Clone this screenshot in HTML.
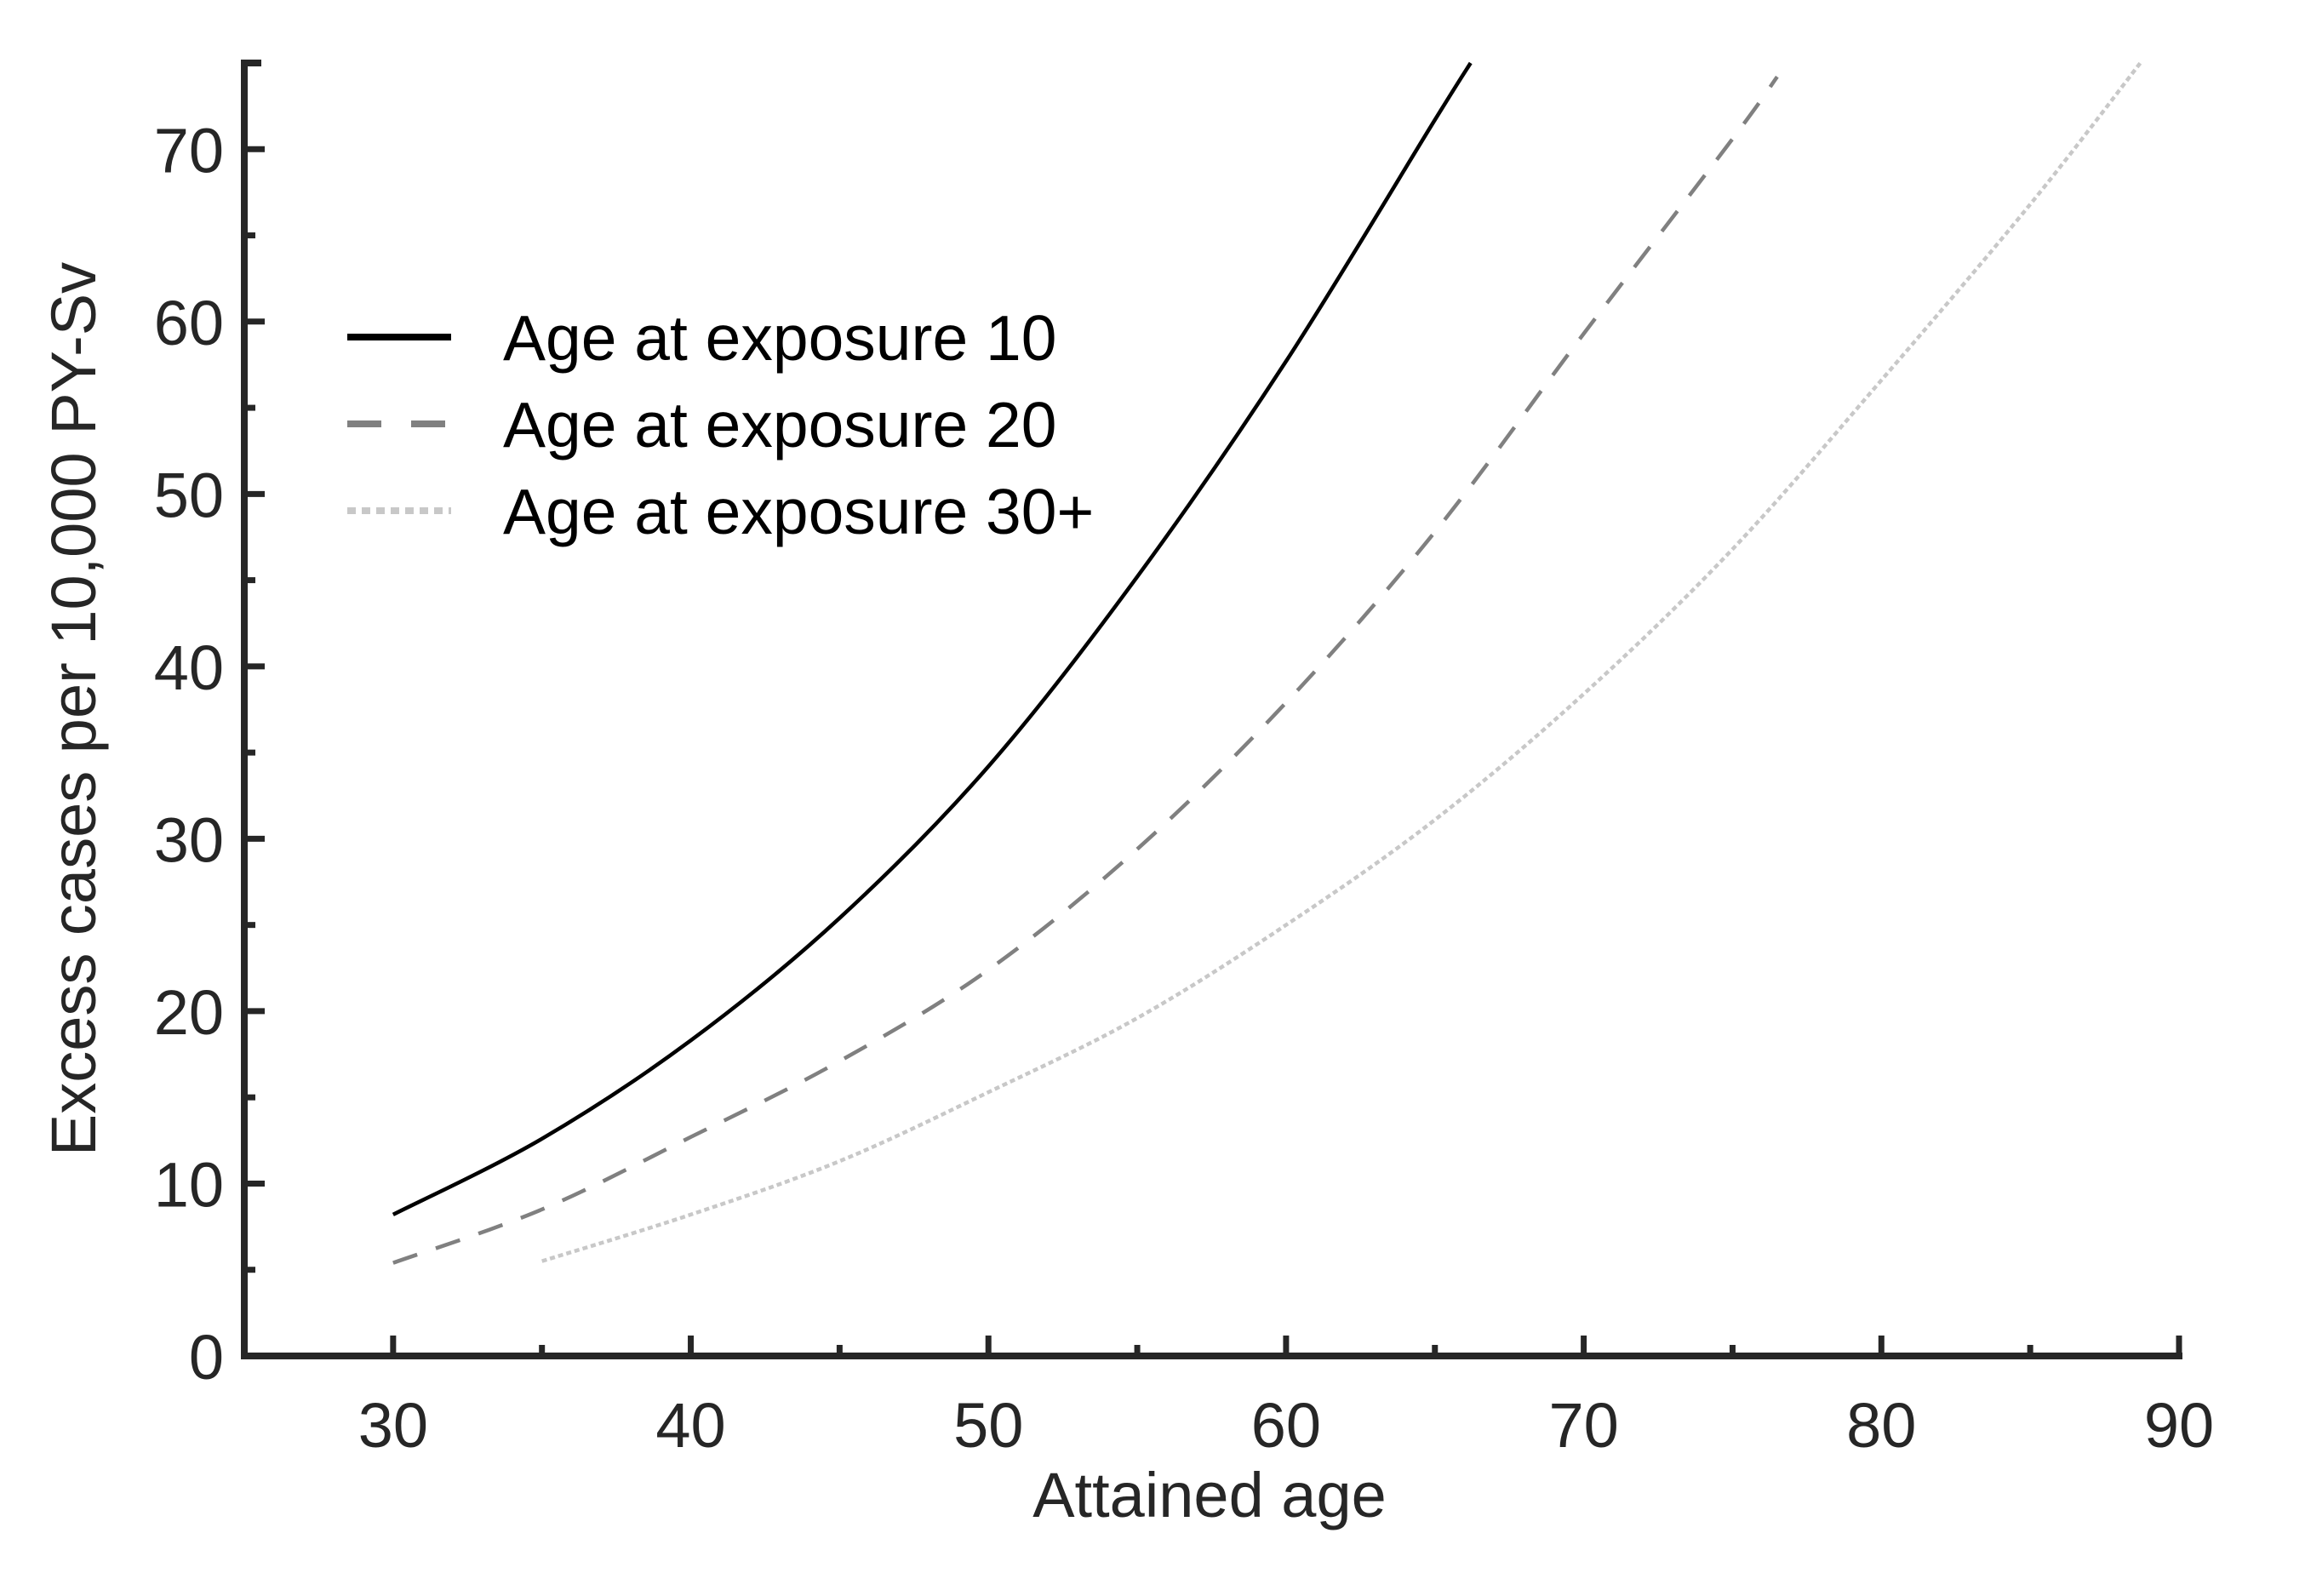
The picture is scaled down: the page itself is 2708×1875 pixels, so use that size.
<!DOCTYPE html>
<html><head><meta charset="utf-8"><style>
html,body{margin:0;padding:0;background:#fff;}
svg{display:block;font-family:"Liberation Sans",Arial,sans-serif;}
</style></head><body>
<svg id="chart" width="2708" height="1875" viewBox="0 0 2708 1875" xmlns="http://www.w3.org/2000/svg">
<g id="axes"></g>
<g id="series"></g>
<g id="legend"></g>
<text x="1421" y="1782" font-size="74" fill="#262626" text-anchor="middle">Attained age</text>
<text transform="translate(112,833) rotate(-90)" font-size="74" fill="#262626" text-anchor="middle">Excess cases per 10,000 PY-Sv</text>
</svg>
<script>
const xTicks = [30,40,50,60,70,80,90];
const yTicks = [0,10,20,30,40,50,60,70];
const ageExp10X = [30,35,40,45,50,55,60,65,66.2];
const ageExp10Y = [8.2,12.6,18.3,25.4,34.2,45.2,57.7,71.7,75];
const ageExp20X = [30,35,40,45,50,55,60,65,70,75,76.5];
const ageExp20Y = [5.4,8.5,12.7,17.1,22.4,29.4,37.9,47.8,59.3,70.6,74.2];
const ageExp30X = [35,40,45,50,55,60,65,70,75,80,85,88.7];
const ageExp30Y = [5.5,8.2,11.3,15.3,19.6,25.0,31.1,38.4,46.8,56.6,66.8,75];
const legendLabels = ["Age at exposure 10","Age at exposure 20","Age at exposure 30+"];

const X0=25,X1=90,Y0=0,Y1=75;
const PX0=287,PX1=2560,PY0=1593,PY1=74;
const sx=v=>PX0+(v-X0)/(X1-X0)*(PX1-PX0);
const sy=v=>PY0-(v-Y0)/(Y1-Y0)*(PY0-PY1);
const NS="http://www.w3.org/2000/svg";
function mk(tag,attrs,parent){const e=document.createElementNS(NS,tag);for(const k in attrs)e.setAttribute(k,attrs[k]);parent.appendChild(e);return e;}
const axes=document.getElementById('axes');
const col="#262626";
let el=mk('path',{d:`M${PX0},${PY1} V${PY0} H${PX1}`,fill:'none',stroke:col,'stroke-width':8,'stroke-linecap':'square'},axes);


el=mk('line',{x1:PX0,y1:PY1,x2:PX0+20,y2:PY1,stroke:col,'stroke-width':8},axes);


for(let v=X0;v<=X1;v+=5){
  const major=v%10===0;
  el=mk('line',{x1:sx(v),x2:sx(v),y1:PY0,y2:PY0-(major?24:13),stroke:col,'stroke-width':7},axes);
  
  
}
xTicks.forEach(v=>{
  const t=mk('text',{x:sx(v),y:1700,'font-size':74,fill:col,'text-anchor':'middle'},axes);t.textContent=v;
  
  
});
for(let v=Y0;v<=Y1;v+=5){
  const major=v%10===0;
  el=mk('line',{x1:PX0,x2:PX0+(major?24:13),y1:sy(v),y2:sy(v),stroke:col,'stroke-width':7},axes);
  
  
}
yTicks.forEach(v=>{
  const t=mk('text',{x:263,y:sy(v)+27,'font-size':74,fill:col,'text-anchor':'end'},axes);t.textContent=v;
  
  
});
function spline(xs,ys){
  const p=xs.map((x,i)=>[sx(x),sy(ys[i])]);
  let d=`M${p[0][0]},${p[0][1]}`;
  for(let i=0;i<p.length-1;i++){
    const a=p[i-1]||p[i],b=p[i],c=p[i+1],e=p[i+2]||c;
    d+=` C${b[0]+(c[0]-a[0])/6},${b[1]+(c[1]-a[1])/6} ${c[0]-(e[0]-b[0])/6},${c[1]-(e[1]-b[1])/6} ${c[0]},${c[1]}`;
  }
  return d;
}
const series=document.getElementById('series');
el=mk('path',{d:spline(ageExp10X,ageExp10Y),fill:'none',stroke:'#000','stroke-width':4.5},series);


el=mk('path',{d:spline(ageExp20X,ageExp20Y),fill:'none',stroke:'#808080','stroke-width':4.5,'stroke-dasharray':'30 23'},series);


el=mk('path',{d:spline(ageExp30X,ageExp30Y),fill:'none',stroke:'#c8c8c8','stroke-width':4.5,'stroke-dasharray':'6 4'},series);



const legend=document.getElementById('legend');
const ly=[396,498,600];
const styles=[{stroke:'#000',dash:'none'},{stroke:'#808080',dash:'40 35'},{stroke:'#c8c8c8',dash:'10 7'}];
legendLabels.forEach((lab,i)=>{
  const ln=mk('line',{x1:408,x2:530,y1:ly[i],y2:ly[i],stroke:styles[i].stroke,'stroke-width':8,'stroke-dasharray':styles[i].dash},legend);
  
  
  const t=mk('text',{x:591,y:ly[i]+27,'font-size':75,fill:'#000'},legend);t.textContent=lab;
  
  
});
</script>
</body></html>
